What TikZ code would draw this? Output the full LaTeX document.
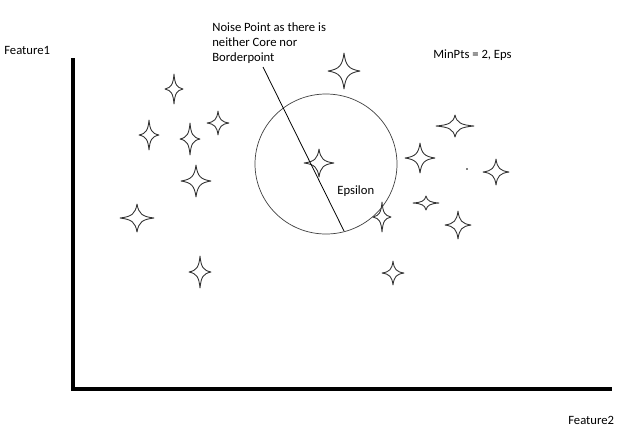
\documentclass[tikz,border=0pt]{standalone}
\usepackage{fontspec}
\setmainfont{Carlito}
\tikzset{
    sparkle/.style={draw=black!80, line width=0.5pt, line join=round},
    lbl/.style={font=\fontsize{7.2}{8.6}\selectfont, inner sep=0pt},
    axis/.style={line width=1.8pt}
}
\begin{document}
\begin{tikzpicture}[x=0.02cm, y=-0.02cm]
\useasboundingbox (0,0) rectangle (624,434);

    % axes
    \draw[axis] (73,58) -- (73,389) -- (612,389);
    \node[lbl, anchor=west] (f1) at (4,50) {Feature1};
    \node[lbl, anchor=west] (f2) at (568,420) {Feature2};

    % data points: x/y/half width/half height
    \foreach \x/\y/\a/\b in {174/89/9/15, 149/135/10/15, 190/139/10/16,
                              218/123/11/12, 196/181/15/16, 137/218/17/14,
                              200/272/11/16, 344/71/16/18, 319/163/15/14,
                              382/217/9/15, 455/126/19/11, 420/158/15/15,
                              496/172/13/13, 426/203/13/7, 458/225/13/14,
                              393/273/11/12}{
        \draw[sparkle] (\x,\y-\b)
            .. controls (\x+0.1*\a,\y-0.3*\b) and (\x+0.3*\a,\y-0.1*\b) .. (\x+\a,\y)
            .. controls (\x+0.3*\a,\y+0.1*\b) and (\x+0.1*\a,\y+0.3*\b) .. (\x,\y+\b)
            .. controls (\x-0.1*\a,\y+0.3*\b) and (\x-0.3*\a,\y+0.1*\b) .. (\x-\a,\y)
            .. controls (\x-0.3*\a,\y-0.1*\b) and (\x-0.1*\a,\y-0.3*\b) .. cycle;
    }
    \fill (467,169) circle[radius=0.8];

    % eps neighbourhood
    \draw[black!75, line width=0.4pt] (326,164) ellipse[x radius=71, y radius=70];
    \coordinate (rim) at (344,231);
    \node[lbl, anchor=west] (eps) at (337,191) {Epsilon};

    \node[lbl, anchor=north west, align=left] (noise) at (212,22)
        {Noise Point as there is\\neither Core nor\\Borderpoint};
    \coordinate (tail) at (263,67);
    \draw[line width=0.45pt] (tail) -- (rim);

    \node[lbl, anchor=west] (minpts) at (433,55) {MinPts = 2, Eps};
\end{tikzpicture}
\end{document}
